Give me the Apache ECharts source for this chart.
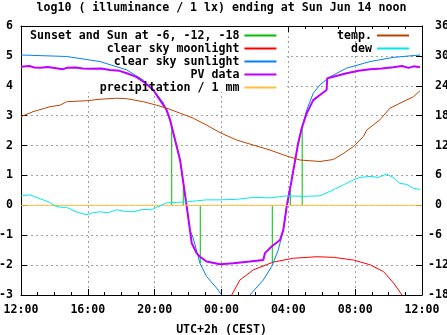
<!DOCTYPE html>
<html><head><meta charset="utf-8">
<script src="https://cdn.jsdelivr.net/npm/echarts@6/dist/echarts.min.js"></script>
<style>html,body{margin:0;padding:0;background:#fff}#c{width:447px;height:335px}</style>
</head><body><div id="c"></div>
<script>
// time in hours after Sat 12:00 (UTC+2h)
const xTickLabels = ['12:00','16:00','20:00','00:00','04:00','08:00','12:00'];

const sunsetT = [9.02, 9.71, 10.73, 15.04, 16.12, 16.83];
const sunsetV = [2.63, 0.57, -1.94, -1.94, 0.52, 2.63];

const moonT = [12.61, 13.1, 13.9, 15.1, 16.3, 17.7, 18.7, 19.9, 20.9, 21.7, 22.3, 22.8];
const moonV = [-3.0, -2.5, -2.16, -1.9, -1.77, -1.72, -1.74, -1.83, -1.99, -2.22, -2.6, -3.0];

const sunT = [0, 2.73, 4.73, 6.33, 7.32, 7.92, 8.52, 8.92, 9.52, 9.92, 10.11, 10.31, 10.71, 11.11, 11.71, 12.01, 12.85, 13.70, 14.50, 15.00, 15.40, 15.70, 15.90, 16.20, 16.59, 16.80, 17.10, 17.49, 17.89, 18.49, 19.49, 20.89, 22.28, 23.88];
const sunV = [5.03, 4.98, 4.81, 4.53, 4.19, 3.86, 3.43, 2.85, 1.52, -0.04, -0.82, -1.1, -1.94, -2.38, -2.77, -3.0, null, -3.0, -2.5, -2.05, -1.49, -0.82, -0.04, 0.85, 2.08, 2.58, 3.19, 3.75, 4.03, 4.30, 4.59, 4.81, 4.95, 5.03];

const pvT = [0, 0.5, 0.8, 1.14, 1.6, 2.2, 2.5, 2.73, 3.3, 3.7, 4.13, 4.8, 5.33, 5.9, 6.33, 6.9, 7.32, 7.92, 8.32, 8.72, 8.92, 9.52, 9.92, 10.22, 10.51, 10.71, 11.11, 11.91, 12.70, 13.70, 14.50, 14.60, 15.00, 15.50, 15.70, 15.90, 16.20, 16.59, 16.80, 17.10, 17.49, 17.89, 18.29, 18.33, 18.69, 19.49, 20.2, 20.89, 21.6, 22.28, 22.8, 23.2, 23.5, 23.88];
const pvV = [4.64, 4.66, 4.61, 4.60, 4.63, 4.58, 4.55, 4.60, 4.61, 4.58, 4.57, 4.58, 4.53, 4.50, 4.42, 4.30, 4.14, 3.86, 3.52, 3.19, 2.86, 1.52, -0.04, -1.27, -1.60, -1.72, -1.88, -1.97, -1.94, -1.88, -1.83, -1.6, -1.38, -1.16, -0.82, -0.04, 0.85, 2.08, 2.58, 3.08, 3.52, 3.69, 3.86, 4.25, 4.30, 4.42, 4.50, 4.55, 4.58, 4.62, 4.66, 4.60, 4.65, 4.62];

const precipT = [0, 4, 8, 12, 16, 20, 24];
const precipV = [0, 0, 0, 0, 0, 0, 0];

const tempT = [0, 0.72, 1.74, 2.33, 2.73, 3.93, 4.73, 5.73, 6.33, 7.32, 8.12, 8.72, 9.52, 10.31, 11.11, 11.91, 12.91, 13.90, 14.90, 15.90, 16.70, 17.89, 18.69, 19.29, 19.89, 20.49, 20.69, 21.49, 22.08, 22.68, 23.49, 23.88];
const tempV = [17.8, 18.8, 19.8, 20.1, 20.8, 21.0, 21.3, 21.5, 21.4, 20.8, 20.1, 19.5, 18.5, 17.5, 16.1, 14.6, 13.1, 12.1, 11.1, 9.9, 9.1, 8.8, 9.2, 10.4, 11.8, 13.8, 15.1, 17.2, 19.5, 20.5, 21.8, 23.0];

const dewT = [0, 0.54, 0.9, 1.33, 1.7, 2.03, 2.4, 2.73, 3.3, 3.93, 4.3, 4.73, 5.2, 5.73, 6.2, 6.72, 7.32, 7.8, 8.12, 8.72, 9.3, 9.92, 10.5, 11.11, 11.91, 12.91, 13.90, 14.9, 15.90, 16.9, 17.89, 18.69, 19.29, 19.89, 20.29, 20.89, 21.4, 21.88, 22.3, 22.68, 23.1, 23.49, 23.88];
const dewV = [1.9, 2.1, 1.6, 1.1, 0.6, -0.1, -0.4, -0.4, -1.3, -1.9, -1.5, -1.3, -1.5, -0.9, -1.2, -1.3, -0.8, -0.9, -0.4, 0.5, 0.6, 0.7, 0.9, 1.1, 1.1, 1.2, 1.6, 1.5, 1.9, 1.8, 1.9, 3.1, 4.1, 5.1, 5.6, 5.8, 5.6, 6.3, 5.5, 4.4, 4.2, 3.4, 3.2];

const zip = (t, v) => t.map((x, i) => [x, v[i] === null ? NaN : v[i]]);
const sunsetData = [];
sunsetT.forEach((t, i) => { sunsetData.push([t, 0], [t, sunsetV[i]], [t, NaN]); });

const FONT = 'DejaVu Sans Mono';
const txt = {fontFamily: FONT, fontWeight: 'bold', fontSize: 11.6, color: '#000'};
const gridLine = {show: true, lineStyle: {color: '#a0a0a0', type: [2, 3], width: 1}};
const axLine = {show: true, onZero: false, lineStyle: {color: '#000', width: 1}};
const tick = {show: true, inside: true, length: 6, lineStyle: {color: '#000'}};
const minor = {show: true, splitNumber: 4, length: 3, lineStyle: {color: '#000'}};

const chart = echarts.init(document.getElementById('c'), null, {renderer: 'canvas'});
const line = (name, data, color, width, yi) => ({
  name, type: 'line', data, yAxisIndex: yi || 0, symbol: 'none', showSymbol: false,
  color, lineStyle: {color, width}, connectNulls: false, animation: false, silent: true, z: 2
});
const legendCommon = {orient: 'vertical', align: 'right', padding: 0, itemWidth: 32, itemHeight: 2, itemGap: 0,
  icon: 'rect', textStyle: {...txt, lineHeight: 13}, selectedMode: false};
chart.setOption({
  animation: false,
  title: {text: 'log10 ( illuminance / 1 lx) ending at Sun Jun 14 noon', left: 221.5, textAlign: 'center', top: 2, padding: 0,
    textStyle: {...txt}},
  grid: {left: 21, right: 25, top: 26, bottom: 40, show: false, outerBoundsMode: 'none', containLabel: false},
  graphic: [{type: 'rect', shape: {x: 22, y: 27, width: 265, height: 65}, style: {fill: '#fff'}, z: 1, silent: true}],
  legend: [
    {...legendCommon, left: 30, top: 29,
      data: ['Sunset and Sun at -6, -12, -18', 'clear sky moonlight', 'clear sky sunlight', 'PV data', 'precipitation / 1 mm']},
    {...legendCommon, right: 38, top: 29, data: ['temp.', 'dew']}
  ],
  xAxis: [
    {type: 'value', position: 'bottom', min: 0, max: 24, interval: 4,
      axisLine: axLine, axisTick: tick, minorTick: minor, splitLine: gridLine,
      axisLabel: {...txt, margin: 9, formatter: (v) => xTickLabels[Math.round(v / 4)]},
      name: 'UTC+2h (CEST)', nameLocation: 'middle', nameGap: 29, nameTextStyle: {...txt}},
    {type: 'value', position: 'top', min: 0, max: 24, interval: 4,
      axisLine: axLine, axisTick: tick, minorTick: minor,
      splitLine: {show: false}, axisLabel: {show: false}}
  ],
  yAxis: [
    {type: 'value', position: 'left', min: -3, max: 6, interval: 1,
      axisLine: axLine, axisTick: tick, splitLine: gridLine,
      axisLabel: {...txt, margin: 8}},
    {type: 'value', position: 'right', min: -18, max: 36, interval: 6,
      axisLine: axLine, axisTick: tick, splitLine: {show: false},
      axisLabel: {...txt, margin: 6, align: 'left', formatter: (v) => (v >= 0 ? ' ' + v : '' + v)}}
  ],
  series: [
    line('Sunset and Sun at -6, -12, -18', sunsetData, '#00c000', 1),
    line('clear sky moonlight', zip(moonT, moonV), '#ff0000', 1),
    line('clear sky sunlight', zip(sunT, sunV), '#0080ff', 1),
    line('PV data', zip(pvT, pvV), '#c000ff', 2),
    line('precipitation / 1 mm', zip(precipT, precipV), '#ffc040', 1),
    line('temp.', zip(tempT, tempV), '#c04000', 1, 1),
    line('dew', zip(dewT, dewV), '#00e8e8', 1, 1)
  ]
});
</script></body></html>
